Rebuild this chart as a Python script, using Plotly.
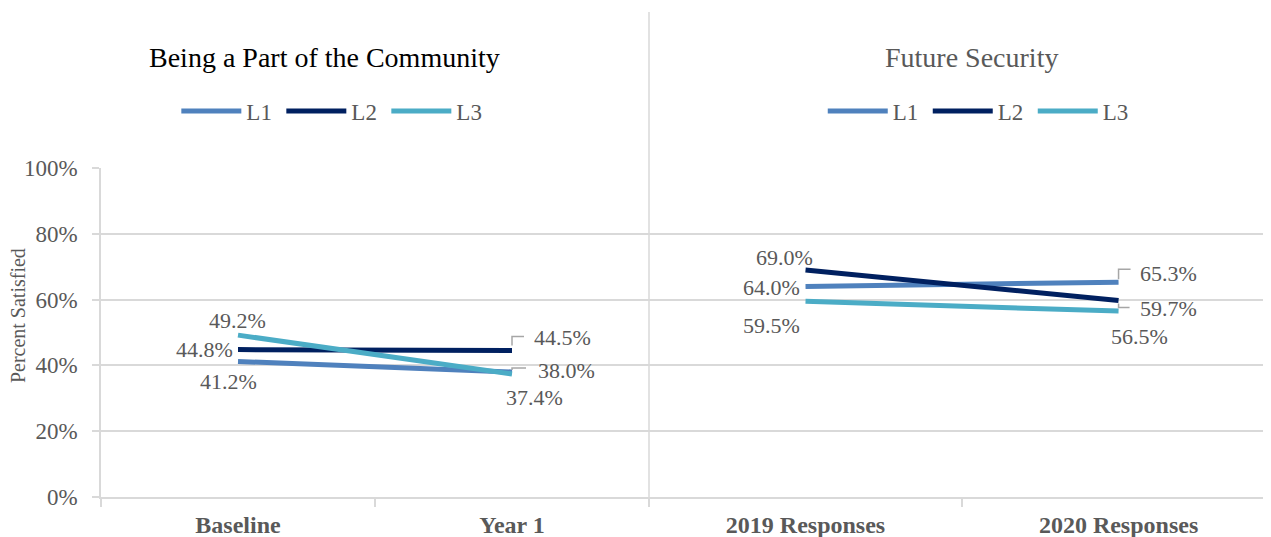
import plotly.graph_objects as go

# ---------------- data ----------------
series_names = ["L1", "L2", "L3"]
community_categories = ["Baseline", "Year 1"]
security_categories = ["2019 Responses", "2020 Responses"]

community_L1 = [41.2, 38.0]
community_L2 = [44.8, 44.5]
community_L3 = [49.2, 37.4]

security_L1 = [64.0, 65.3]
security_L2 = [69.0, 59.7]
security_L3 = [59.5, 56.5]

y_ticks = [0, 20, 40, 60, 80, 100]
y_tick_labels = ["0%", "20%", "40%", "60%", "80%", "100%"]

# ---------------- styling ----------------
colors = {"L1": "#4F81BD", "L2": "#002060", "L3": "#4BACC6"}
FONT = "Liberation Serif"
TXT = "#595959"
GRID = "#d9d9d9"
LBL = 22

# label offsets (px, right / down) per series per point
community_offsets = {
    "L1": [(-10, 20), (54, -1)],
    "L2": [(-34, 0), (50, -13)],
    "L3": [(-1, -15), (22, 24)],
}
security_offsets = {
    "L1": [(-34, 1), (50, -9)],
    "L2": [(-21, -12), (50, 8)],
    "L3": [(-34, 24), (21, 25)],
}

community = {"L1": community_L1, "L2": community_L2, "L3": community_L3}
security = {"L1": security_L1, "L2": security_L2, "L3": security_L3}

fig = go.Figure()
annotations = []

for name in series_names:
    fig.add_trace(go.Scatter(
        x=community_categories, y=community[name], mode="lines", name=name,
        line=dict(color=colors[name], width=5), xaxis="x", yaxis="y",
        legend="legend", hoverinfo="skip"))
    for i, (c, v) in enumerate(zip(community_categories, community[name])):
        dx, dy = community_offsets[name][i]
        annotations.append(dict(
            x=c, y=v, xref="x", yref="y", text=f"{v:.1f}%", showarrow=False,
            xshift=dx, yshift=-dy, xanchor="center", yanchor="middle",
            font=dict(family=FONT, size=LBL, color=TXT)))

for name in series_names:
    fig.add_trace(go.Scatter(
        x=security_categories, y=security[name], mode="lines", name=name,
        line=dict(color=colors[name], width=5), xaxis="x2", yaxis="y2",
        legend="legend2", hoverinfo="skip"))
    for i, (c, v) in enumerate(zip(security_categories, security[name])):
        dx, dy = security_offsets[name][i]
        annotations.append(dict(
            x=c, y=v, xref="x2", yref="y2", text=f"{v:.1f}%", showarrow=False,
            xshift=dx, yshift=-dy, xanchor="center", yanchor="middle",
            font=dict(family=FONT, size=LBL, color=TXT)))

# titles
annotations.append(dict(text="Being a Part of the Community", xref="paper", yref="paper",
                        x=0.1906, y=1.337, showarrow=False, xanchor="center", yanchor="middle",
                        font=dict(family=FONT, size=28, color="#000000")))
annotations.append(dict(text="Future Security", xref="paper", yref="paper",
                        x=0.7444, y=1.337, showarrow=False, xanchor="center", yanchor="middle",
                        font=dict(family=FONT, size=28, color=TXT)))
annotations.append(dict(text="Percent Satisfied", xref="paper", yref="paper",
                        x=-0.0709, y=0.55, showarrow=False, textangle=-90,
                        xanchor="center", yanchor="middle",
                        font=dict(family=FONT, size=20, color=TXT)))

# leader lines (pixel paths anchored at data points)
leaders = [
    ("x", "y", community_categories[1], community_L2[1], "M0,5 V14 H12"),
    ("x", "y", community_categories[1], community_L1[1], "M0,2 V4 H14"),
    ("x2", "y2", security_categories[1], security_L1[1], "M0,3 V13 H12"),
    ("x2", "y2", security_categories[1], security_L2[1], "M0,-3 V-7 H11"),
]
shapes = []
for xr, yr, xc, yv, path in leaders:
    shapes.append(dict(type="path", xref=xr, yref=yr, xsizemode="pixel", ysizemode="pixel",
                       xanchor=xc, yanchor=yv, path=path,
                       line=dict(color="#a6a6a6", width=1.5)))
# divider between the two panels
split = 548 / 1170
shapes.append(dict(type="line", xref="paper", yref="paper", x0=split, x1=split,
                   y0=0, y1=1.474, line=dict(color=GRID, width=1.5), layer="below"))

axis_common = dict(type="category", showgrid=False, showline=True, linecolor=GRID,
                   linewidth=1.5, ticks="outside", tickson="boundaries", ticklen=8,
                   tickcolor=GRID, tickwidth=1.5, ticklabelstandoff=5,
                   tickfont=dict(family=FONT, size=24, color=TXT, weight="bold"),
                   fixedrange=True)

legend_common = dict(orientation="h", y=1.173, xanchor="center", yanchor="middle",
                     font=dict(family=FONT, size=23, color=TXT), bgcolor="rgba(0,0,0,0)",
                     itemwidth=60, entrywidth=30, itemclick=False, itemdoubleclick=False)

fig.update_layout(
    width=1263, height=529,
    margin=dict(l=93, r=0, t=160, b=40),
    paper_bgcolor="white", plot_bgcolor="white",
    font=dict(family=FONT, color=TXT),
    xaxis=dict(domain=[0, split], range=[-0.5, 1.5], anchor="y", **axis_common),
    xaxis2=dict(domain=[split, 1], range=[-0.5, 1.487], anchor="y2", **axis_common),
    yaxis=dict(range=[0, 100], tickvals=y_ticks, ticktext=y_tick_labels, anchor="x",
               showgrid=True, gridcolor=GRID, gridwidth=1.5, zeroline=False,
               showline=True, linecolor=GRID, linewidth=1.5,
               ticks="outside", ticklen=7, tickcolor=GRID, tickwidth=1.5,
               ticklabelstandoff=10,
               tickfont=dict(family=FONT, size=23, color=TXT), fixedrange=True),
    yaxis2=dict(range=[0, 100], tickvals=y_ticks, anchor="x2", matches="y",
                showgrid=True, gridcolor=GRID, gridwidth=1.5, zeroline=False,
                showline=False, showticklabels=False, ticks="", fixedrange=True),
    legend=dict(x=0.199, **legend_common),
    legend2=dict(x=0.7515, **legend_common),
    annotations=annotations,
    shapes=shapes,
    showlegend=True,
)

fig.write_html("out.html")
